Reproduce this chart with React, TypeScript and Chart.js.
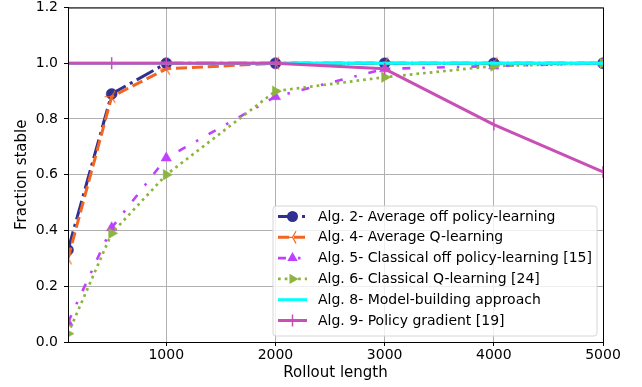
import React, { useEffect, useRef } from 'react';
import { Chart, registerables } from 'chart.js';
Chart.register(...registerables);

// ---- data ----
const rollout = [100, 500, 1000, 2000, 3000, 4000, 5000];
const alg2 = [0.33, 0.89, 1.0, 1.0, 1.0, 1.0, 1.0];
const alg4 = [0.3, 0.88, 0.98, 1.0, 1.0, 1.0, 1.0];
const alg5 = [0.07, 0.41, 0.66, 0.88, 0.98, 0.99, 1.0];
const alg6 = [0.03, 0.39, 0.6, 0.9, 0.95, 0.99, 1.0];
const alg8 = [1.0, 1.0, 1.0, 1.0, 1.0, 1.0, 1.0];
const alg9 = [1.0, 1.0, 1.0, 1.0, 0.98, 0.78, 0.61];
const xTicks = [1000, 2000, 3000, 4000, 5000];
const yTicks = [0, 0.2, 0.4, 0.6, 0.8, 1.0, 1.2];
const labels = [
  'Alg. 2- Average off policy-learning',
  'Alg. 4- Average Q-learning',
  'Alg. 5- Classical off policy-learning [15]',
  'Alg. 6- Classical Q-learning [24]',
  'Alg. 8- Model-building approach',
  'Alg. 9- Policy gradient [19]',
];
const xTitle = 'Rollout length';
const yTitle = 'Fraction stable';

// ---- styles ----
const FONT = "'DejaVu Sans', 'Liberation Sans', sans-serif";
const styles = [
  { color: '#2e3192', dash: [19.2, 4.8, 3, 4.8], width: 3, marker: 'circle' },
  { color: '#f26522', dash: [11.1, 4.8], width: 3, marker: 'tri' },
  { color: '#c040ff', dash: [8, 12, 2.5, 12], width: 2.6, marker: 'triUp' },
  { color: '#8db43f', dash: [2.7, 4], width: 2.7, marker: 'triRight' },
  { color: '#00ffff', dash: [] as number[], width: 3, marker: 'none' },
  { color: '#c94fb5', dash: [] as number[], width: 3, marker: 'vline' },
];
const seriesValues = [alg2, alg4, alg5, alg6, alg8, alg9];

function makeTriImage(color: string) {
  const c = document.createElement('canvas');
  c.width = 17;
  c.height = 17;
  const g = c.getContext('2d')!;
  const cx = 8.5, cy = 8.5, L = 7;
  g.strokeStyle = color;
  g.lineWidth = 1.2;
  g.beginPath();
  g.moveTo(cx, cy); g.lineTo(cx - L, cy);
  g.moveTo(cx, cy); g.lineTo(cx + L * 0.5, cy - L * 0.866);
  g.moveTo(cx, cy); g.lineTo(cx + L * 0.5, cy + L * 0.866);
  g.stroke();
  return c;
}

function drawMarker(ctx: CanvasRenderingContext2D, kind: string, x: number, y: number, color: string) {
  ctx.save();
  ctx.setLineDash([]);
  ctx.fillStyle = color;
  ctx.strokeStyle = color;
  ctx.beginPath();
  if (kind === 'circle') {
    ctx.arc(x, y, 5.5, 0, Math.PI * 2);
    ctx.fill();
  } else if (kind === 'triUp') {
    ctx.moveTo(x, y - 6); ctx.lineTo(x + 5.2, y + 3); ctx.lineTo(x - 5.2, y + 3);
    ctx.closePath(); ctx.fill();
  } else if (kind === 'triRight') {
    ctx.moveTo(x + 6, y); ctx.lineTo(x - 3, y + 5.2); ctx.lineTo(x - 3, y - 5.2);
    ctx.closePath(); ctx.fill();
  } else if (kind === 'tri') {
    const L = 7;
    ctx.lineWidth = 1.2;
    ctx.moveTo(x, y); ctx.lineTo(x - L, y);
    ctx.moveTo(x, y); ctx.lineTo(x + L * 0.5, y - L * 0.866);
    ctx.moveTo(x, y); ctx.lineTo(x + L * 0.5, y + L * 0.866);
    ctx.stroke();
  } else if (kind === 'vline') {
    ctx.lineWidth = 1.5;
    ctx.moveTo(x, y - 6); ctx.lineTo(x, y + 6);
    ctx.stroke();
  }
  ctx.restore();
}

const framePlugin = {
  id: 'frame',
  afterDatasetsDraw(chart: any) {
    const { ctx, chartArea: a } = chart;
    ctx.save();
    ctx.strokeStyle = '#000';
    ctx.lineWidth = 1;
    ctx.strokeRect(a.left + 0.5, a.top + 0.5, a.right - a.left, a.bottom - a.top);
    ctx.restore();
  },
};

const decorPlugin = {
  id: 'decor',
  afterDraw(chart: any) {
    const { ctx, chartArea: a } = chart;
    ctx.save();
    // axis titles
    ctx.fillStyle = '#000';
    ctx.font = `15px ${FONT}`;
    ctx.textAlign = 'center';
    ctx.textBaseline = 'middle';
    ctx.fillText(xTitle, (a.left + a.right) / 2, 373);
    ctx.save();
    ctx.translate(22, (a.top + a.bottom) / 2);
    ctx.rotate(-Math.PI / 2);
    ctx.fillText(yTitle, 0, 0);
    ctx.restore();

    // legend
    const bx = 273, by = 206, bw = 324, bh = 130, r = 3;
    ctx.beginPath();
    ctx.moveTo(bx + r, by);
    ctx.lineTo(bx + bw - r, by);
    ctx.arcTo(bx + bw, by, bx + bw, by + r, r);
    ctx.lineTo(bx + bw, by + bh - r);
    ctx.arcTo(bx + bw, by + bh, bx + bw - r, by + bh, r);
    ctx.lineTo(bx + r, by + bh);
    ctx.arcTo(bx, by + bh, bx, by + bh - r, r);
    ctx.lineTo(bx, by + r);
    ctx.arcTo(bx, by, bx + r, by, r);
    ctx.closePath();
    ctx.fillStyle = 'rgba(255,255,255,0.8)';
    ctx.fill();
    ctx.strokeStyle = '#d6d6d6';
    ctx.lineWidth = 1;
    ctx.stroke();

    ctx.font = `14px ${FONT}`;
    ctx.textAlign = 'left';
    ctx.textBaseline = 'middle';
    styles.forEach((s, i) => {
      const y = 216.5 + i * 20.8;
      ctx.save();
      ctx.strokeStyle = s.color;
      ctx.lineWidth = s.width;
      ctx.lineCap = 'butt';
      ctx.setLineDash(s.dash);
      ctx.beginPath();
      ctx.moveTo(278, y);
      ctx.lineTo(307, y);
      ctx.stroke();
      ctx.restore();
      drawMarker(ctx, s.marker, 292.5, y, s.color);
      ctx.fillStyle = '#000';
      ctx.fillText(labels[i], 318, y + 0.5);
    });
    ctx.restore();
  },
};

export default function App() {
  const ref = useRef<HTMLCanvasElement>(null);
  useEffect(() => {
    document.body.style.margin = '0';
    const canvas = ref.current!;
    const triImg = makeTriImage(styles[1].color);
    const pointStyleFor = (m: string): any => {
      if (m === 'circle') return 'circle';
      if (m === 'tri') return triImg;
      if (m === 'triUp' || m === 'triRight') return 'triangle';
      if (m === 'vline') return 'line';
      return false;
    };
    const datasets = styles.map((s, i) => ({
      label: labels[i],
      data: rollout.map((x, j) => ({ x, y: seriesValues[i][j] })),
      borderColor: s.color,
      backgroundColor: s.color,
      borderWidth: s.width,
      borderDash: s.dash,
      borderJoinStyle: 'round' as const,
      borderCapStyle: 'butt' as const,
      fill: false,
      tension: 0,
      clip: 0,
      order: 6 - i,
      pointStyle: pointStyleFor(s.marker),
      pointRadius: s.marker === 'none' ? 0 : s.marker === 'circle' ? 5.5 : 6,
      pointRotation: s.marker === 'triRight' ? 90 : s.marker === 'vline' ? 90 : 0,
      pointBackgroundColor: s.color,
      pointBorderColor: s.color,
      pointBorderWidth: s.marker === 'vline' ? 1.5 : s.marker === 'tri' ? 0 : 0.5,
    }));

    const chart = new Chart(canvas, {
      type: 'line',
      data: { datasets },
      plugins: [framePlugin, decorPlugin],
      options: {
        animation: false,
        responsive: false,
        devicePixelRatio: 1,
        events: [],
        layout: { padding: { left: 0, top: 6, right: 39, bottom: 0 } },
        plugins: { legend: { display: false }, tooltip: { enabled: false } },
        scales: {
          x: {
            type: 'linear',
            min: 100,
            max: 5000,
            afterBuildTicks: (scale: any) => {
              scale.ticks = xTicks.map((v) => ({ value: v }));
            },
            afterFit: (scale: any) => {
              scale.height = 45;
              scale.paddingLeft = 0;
              scale.paddingRight = 0;
              scale.paddingTop = 0;
              scale.paddingBottom = 0;
            },
            ticks: {
              autoSkip: false,
              maxRotation: 0,
              padding: 1,
              color: '#000',
              font: { family: FONT, size: 14 },
              callback: (v: any) => String(v),
            },
            grid: { color: '#b0b0b0', lineWidth: 1, tickColor: '#000', tickLength: 4, drawTicks: true },
            border: { display: true, color: '#000', width: 1 },
          },
          y: {
            type: 'linear',
            min: 0,
            max: 1.2,
            afterBuildTicks: (scale: any) => {
              scale.ticks = yTicks.map((v) => ({ value: v }));
            },
            afterFit: (scale: any) => {
              scale.width = 68;
              scale.paddingLeft = 0;
              scale.paddingRight = 0;
              scale.paddingTop = 0;
              scale.paddingBottom = 0;
            },
            ticks: {
              autoSkip: false,
              padding: 6,
              color: '#000',
              font: { family: FONT, size: 14 },
              callback: (v: any) => Number(v).toFixed(1),
            },
            grid: { color: '#b0b0b0', lineWidth: 1, tickColor: '#000', tickLength: 4, drawTicks: true },
            border: { display: true, color: '#000', width: 1 },
          },
        },
      },
    });
    return () => chart.destroy();
  }, []);
  return (
    <div style={{ position: 'absolute', left: 0, top: 0, width: 642, height: 387 }}>
      <canvas ref={ref} width={642} height={387} style={{ display: 'block', width: 642, height: 387 }} />
    </div>
  );
}
